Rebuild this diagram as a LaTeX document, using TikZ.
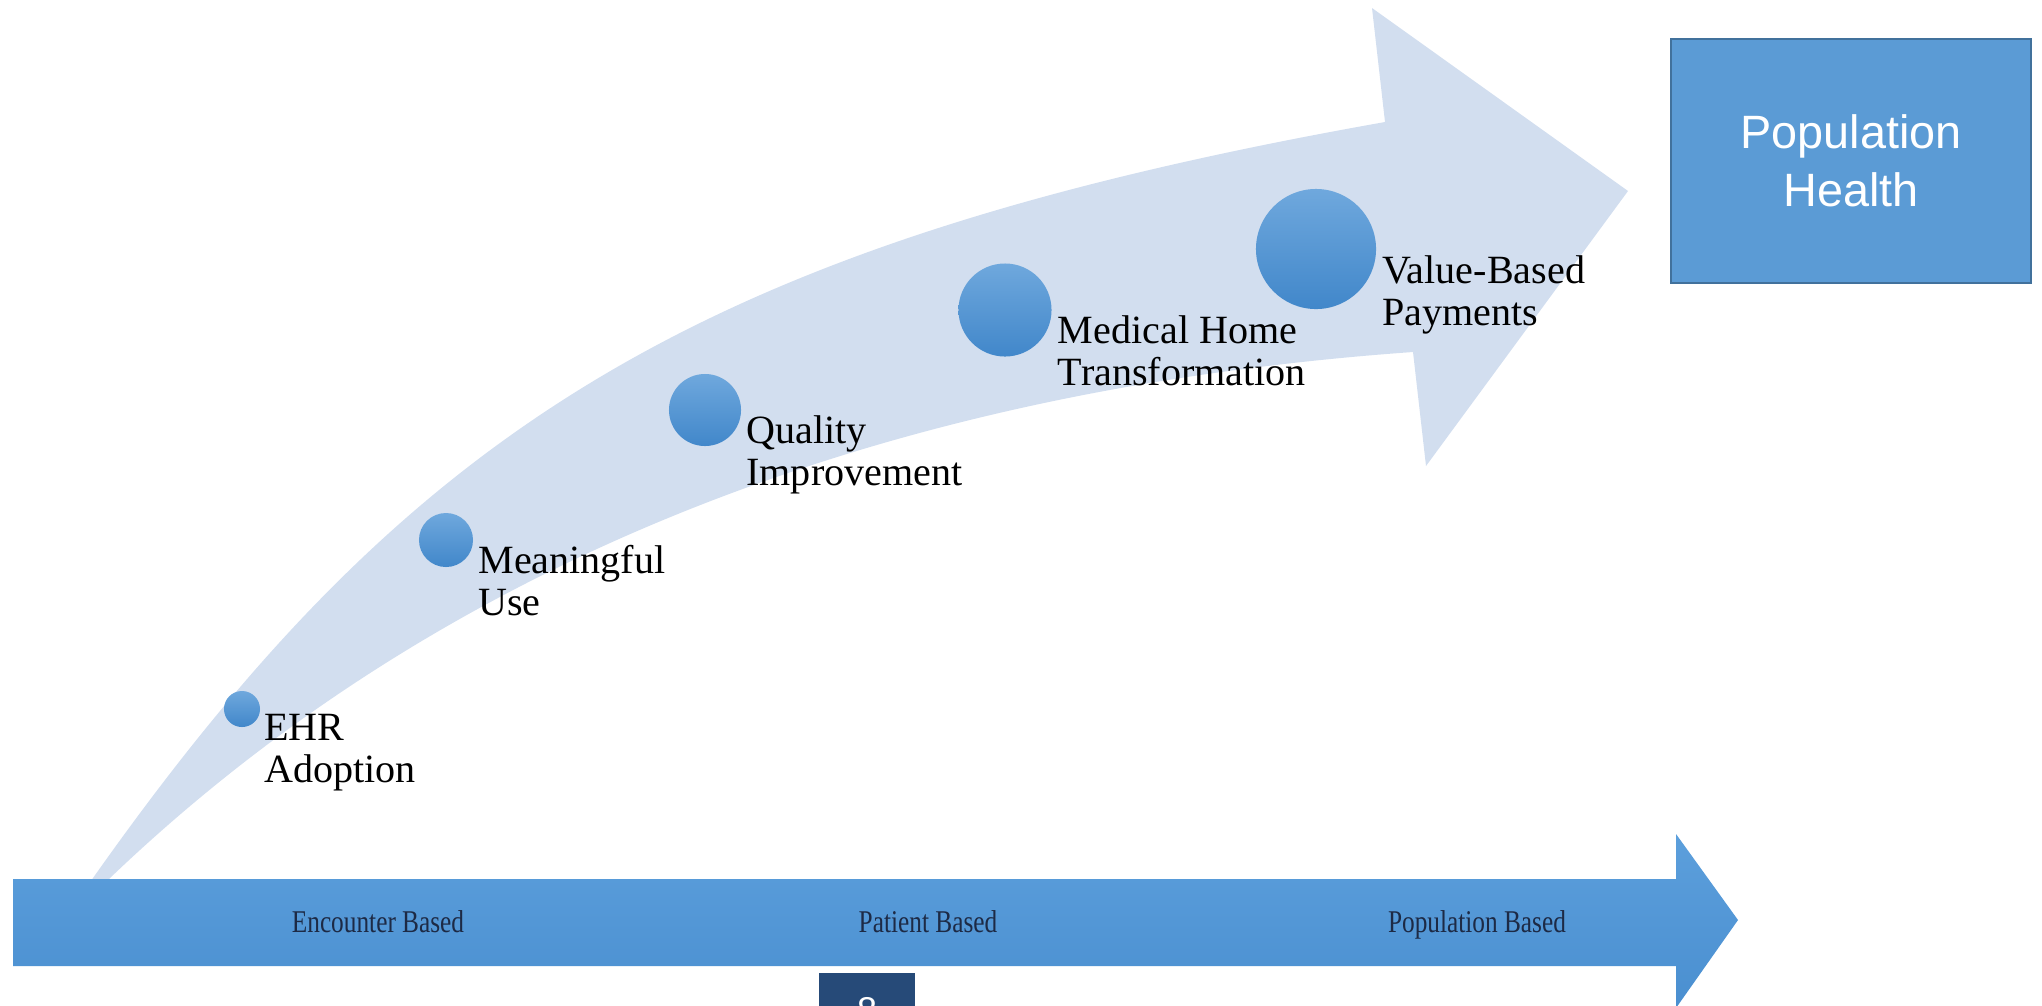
\documentclass[tikz,border=0pt]{standalone}
\usepackage{fontspec}
\setmainfont{Liberation Serif}
\newfontfamily\headfont{Liberation Sans}
\newfontfamily\stagefont[FakeStretch=0.8]{Liberation Serif}
\usetikzlibrary{positioning}

\definecolor{bandblue}{HTML}{D2DEEF}
\definecolor{dottop}{HTML}{6FA8DD}
\definecolor{dotbot}{HTML}{4187CA}
\definecolor{axistop}{HTML}{5C9FDC}
\definecolor{axisbot}{HTML}{4A8FD0}
\definecolor{boxblue}{HTML}{5B9BD5}
\definecolor{boxedge}{HTML}{41719C}
\definecolor{pagenavy}{HTML}{264A78}
\definecolor{stagetext}{HTML}{1D2A45}

\begin{document}
\begin{tikzpicture}[
    x=0.01cm, y=-0.01cm,
    dot/.style={circle, inner sep=0pt, draw=none, top color=dottop, bottom color=dotbot},
    milestone/.style={align=left, inner sep=0pt, font=\fontsize{11.4}{11.8}\selectfont},
    stage/.style={anchor=base, inner sep=0pt, text=stagetext, font=\stagefont\fontsize{9}{10}\selectfont},
    goal/.style={rectangle, draw=boxedge, line width=0.6pt, fill=boxblue, text=white, align=center,
                 minimum width=3.59cm, minimum height=2.44cm, font=\headfont\fontsize{13.3}{16.5}\selectfont},
    pagebox/.style={rectangle, fill=pagenavy, text=white, minimum width=0.96cm, minimum height=0.74cm,
                    inner sep=0pt, font=\headfont\fontsize{10.2}{12}\selectfont},
]
\useasboundingbox (0,0) rectangle (2042,1005);
\clip (0,0) rectangle (2042,1005);

% === Curved arrow (background) ===
\fill[bandblue] (78,900) -- (93,878) .. controls (410,429) and (696,244) .. (1385,122)
    -- (1372,8) -- (1628,191) -- (1426,466) -- (1413,352)
    .. controls (765,398) and (363,636) .. (110,878) -- (94,900) -- cycle;

% === Timeline arrow ===
\shade[top color=axistop, bottom color=axisbot] (13,879) -- (1676,879) -- (1676,834) -- (1738,920)
    -- (1676,1008) -- (1676,966) -- (13,966) -- cycle;

\node[stage] (enc) at (378,932) {Encounter Based};
\node[stage] (pat) at (928,932) {Patient Based};
\node[stage] (pop) at (1477,932) {Population Based};

% Page number
\node[pagebox] (pageno) at (867,1010) {8};

% === Milestones ===
\node[dot, minimum size=0.36cm] (ehr) at (242,709) {};
\node[milestone, below right=0.05cm and 0.03cm of ehr.east] (ehrtxt) {EHR\\Adoption};

\node[dot, minimum size=0.54cm] (mu) at (446,540) {};
\node[milestone, below right=0.05cm and 0.04cm of mu.east] (mutxt) {Meaningful\\Use};

\node[dot, minimum size=0.72cm] (qi) at (705,410) {};
\node[milestone, below right=0.05cm and 0.04cm of qi.east] (qitxt) {Quality\\Improvement};

\node[dot, minimum size=0.93cm] (mh) at (1005,310) {};
\node[milestone, below right=0.05cm and 0.05cm of mh.east] (mhtxt) {Medical Home\\Transformation};

\node[dot, minimum size=1.20cm] (vbp) at (1316,249) {};
\node[milestone, below right=0.06cm and 0.05cm of vbp.east] (vbptxt) {Value-Based\\Payments};

% === Goal ===
\node[goal] (pophealth) at (1851,161) {Population\\Health};

\end{tikzpicture}
\end{document}
